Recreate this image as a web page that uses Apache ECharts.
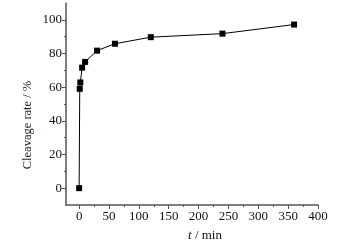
<!DOCTYPE html>
<html><head><meta charset="utf-8">
<script src="https://cdn.jsdelivr.net/npm/echarts@6/dist/echarts.min.js"></script>
<style>html,body{margin:0;padding:0;background:#fff}#c{width:351px;height:246px}</style>
</head><body><div id="c"></div>
<script>
const times = [0, 1, 2, 5, 10, 30, 60, 120, 240, 360];
const cleavage = [0, 59, 62.8, 71.6, 75, 81.7, 85.8, 89.7, 91.8, 97.2];
const xTicks = [0, 50, 100, 150, 200, 250, 300, 350, 400];
const xMinor = [25, 75, 125, 175, 225, 275, 325, 375];
const yTicks = [0, 20, 40, 60, 80, 100];
const yMinor = [10, 30, 50, 70, 90];

const font = 'Liberation Serif';
const axisColor = '#555';
const labelColor = '#111';
const chart = echarts.init(document.getElementById('c'));
chart.setOption({
  animation: false,
  grid: {left: 66, right: 33, top: 3, bottom: 41},
  graphic: [{
    type: 'text', x: 28, y: 125, rotation: Math.PI / 2,
    style: {text: 'Cleavage rate / %', fill: '#2a2218', font: '12.5px "Liberation Serif"', align: 'center', verticalAlign: 'middle'}
  }, {
    type: 'text', x: 205, y: 236,
    style: {text: '{i|t} / min', fill: labelColor, font: '13px "Liberation Serif"', align: 'center', verticalAlign: 'middle',
      rich: {i: {fontStyle: 'italic', fontFamily: font, fontSize: 13, fill: labelColor}}}
  }],
  xAxis: [{
    type: 'value', min: -22, max: 400, position: 'bottom',
    splitLine: {show: false},
    axisLine: {show: true, onZero: false, lineStyle: {color: axisColor, width: 1.5}},
    axisTick: {show: true, length: 4, customValues: xTicks, lineStyle: {color: axisColor}},
    axisLabel: {customValues: xTicks, color: labelColor, fontFamily: font, fontSize: 13, margin: 5}
  }, {
    type: 'value', min: -22, max: 400, position: 'bottom',
    splitLine: {show: false},
    axisLine: {show: false, onZero: false},
    axisTick: {show: true, length: 2, customValues: xMinor, lineStyle: {color: axisColor}},
    axisLabel: {show: false}
  }],
  yAxis: [{
    type: 'value', min: -10, max: 110, position: 'left',
    splitLine: {show: false},
    axisLine: {show: true, onZero: false, lineStyle: {color: axisColor, width: 1.5}},
    axisTick: {show: true, length: 4, customValues: yTicks, lineStyle: {color: axisColor}},
    axisLabel: {customValues: yTicks, color: labelColor, fontFamily: font, fontSize: 13, margin: 4}
  }, {
    type: 'value', min: -10, max: 110, position: 'left',
    splitLine: {show: false},
    axisLine: {show: false, onZero: false},
    axisTick: {show: true, length: 2, customValues: yMinor, lineStyle: {color: axisColor}},
    axisLabel: {show: false}
  }],
  series: [{
    type: 'line', xAxisIndex: 0, yAxisIndex: 0,
    data: times.map((t, i) => [t, cleavage[i]]),
    symbol: 'rect', symbolSize: 6,
    lineStyle: {color: '#000', width: 1},
    itemStyle: {color: '#000'}
  }]
});
</script></body></html>
